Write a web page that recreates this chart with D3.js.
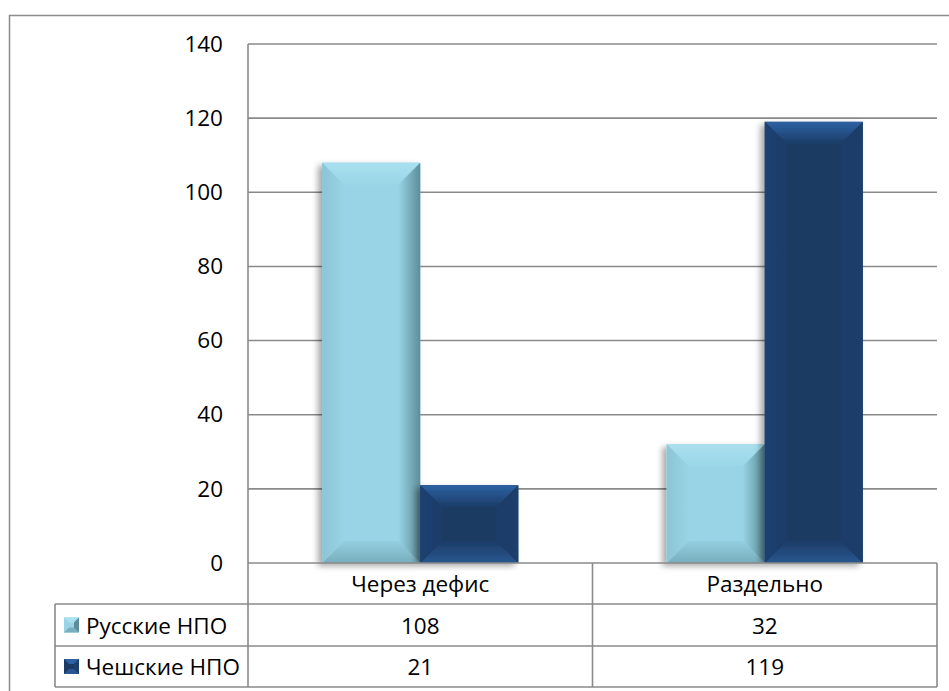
<!DOCTYPE html>
<html><head><meta charset="utf-8">
<script src="https://cdn.jsdelivr.net/npm/d3@7"></script>
<style>
html,body{margin:0;padding:0;background:#fff;}
svg{display:block;font-family:"Open Sans",sans-serif;}
</style></head>
<body><svg id="c" width="949" height="691"></svg>
<script>
const categories = ["Через дефис", "Раздельно"];
const seriesNames = ["Русские НПО", "Чешские НПО"];
const russianValues = [108, 32];
const czechValues = [21, 119];
const yTicks = [0, 20, 40, 60, 80, 100, 120, 140];

const seriesValues = [russianValues, czechValues];
const svg = d3.select("#c");
const plot = {l: 248, r: 937, t: 44, b: 563};
const tbl = {l: 55, rows: [563, 604, 646, 687]};
const grid = "#8a8a8a";
const fs = 22.5;

// outer frame
svg.append("rect").attr("x", 9.5).attr("y", 15.5).attr("width", 980).attr("height", 720)
  .attr("fill", "none").attr("stroke", "#8c8c8c").attr("stroke-width", 1.5);

const y = d3.scaleLinear().domain([0, 140]).range([plot.b, plot.t]);
const x0 = d3.scaleBand().domain(categories).range([plot.l, plot.r]).padding(0);
const x1 = d3.scaleBand().domain(seriesNames).range([0, x0.bandwidth()]).paddingInner(0).paddingOuter(0.757);

// gridlines
svg.append("g").selectAll("line").data(yTicks.filter(d => d > 0)).join("line")
  .attr("x1", plot.l).attr("x2", plot.r).attr("y1", d => y(d)).attr("y2", d => y(d))
  .attr("stroke", grid).attr("stroke-width", 1.6);

// y axis labels
const yAxis = svg.append("g").attr("transform", `translate(${plot.l},0)`)
  .call(d3.axisLeft(y).tickValues(yTicks).tickSize(0).tickPadding(25));
yAxis.select(".domain").remove();
yAxis.selectAll("text").attr("font-family", "Open Sans, sans-serif").attr("font-size", fs).attr("fill", "#000");

// defs
const defs = svg.append("defs");
const f = defs.append("filter").attr("id", "sh").attr("x", "-20%").attr("y", "-10%").attr("width", "140%").attr("height", "120%");
f.append("feDropShadow").attr("dx", -4).attr("dy", 3).attr("stdDeviation", 3).attr("flood-color", "#000").attr("flood-opacity", 0.35);

function lg(id, x1_, y1_, x2_, y2_, stops) {
  const g = defs.append("linearGradient").attr("id", id)
    .attr("x1", x1_).attr("y1", y1_).attr("x2", x2_).attr("y2", y2_);
  stops.forEach(s => g.append("stop").attr("offset", s[0]).attr("stop-color", s[1]));
}
const pal = [
  {c: "#98d4e5", top: ["#a9e0ef", "#9ad6e7"], bot: ["#93cfe0", "#78aebd"], left: ["#8cc5d5", "#98d4e5"], right: ["#98d4e5", "#5e8d9a"]},
  {c: "#1b3a63", top: ["#2d62a3", "#1c3c68"], bot: ["#1c3c68", "#29578f"], left: ["#1d4172", "#1c3c68"], right: ["#1c3c68", "#1d3f6c"]}
];
pal.forEach((p, i) => {
  lg("t" + i, 0, 0, 0, 1, [[0, p.top[0]], [1, p.top[1]]]);
  lg("b" + i, 0, 0, 0, 1, [[0, p.bot[0]], [1, p.bot[1]]]);
  lg("l" + i, 0, 0, 1, 0, [[0, p.left[0]], [1, p.left[1]]]);
  lg("r" + i, 0, 0, 1, 0, [[0, p.right[0]], [1, p.right[1]]]);
});

// bars
const barData = [];
categories.forEach((c, ci) => seriesNames.forEach((s, si) => barData.push({c, s, si, v: seriesValues[si][ci]})));
const bars = svg.append("g").selectAll("g").data(barData).join("g").attr("filter", "url(#sh)");
bars.each(function(d) {
  const g = d3.select(this);
  const X = x0(d.c) + x1(d.s), w = x1.bandwidth();
  const T = y(d.v), B = y(0), h = B - T;
  const b = Math.min(22, h / 2, w / 2);
  const i = d.si;
  const poly = pts => pts.map(p => p.join(",")).join(" ");
  g.append("rect").attr("x", X).attr("y", T).attr("width", w).attr("height", h).attr("fill", pal[i].c);
  g.append("polygon").attr("points", poly([[X, T], [X + w, T], [X + w - b, T + b], [X + b, T + b]])).attr("fill", `url(#t${i})`);
  g.append("polygon").attr("points", poly([[X, B], [X + w, B], [X + w - b, B - b], [X + b, B - b]])).attr("fill", `url(#b${i})`);
  g.append("polygon").attr("points", poly([[X, T], [X + b, T + b], [X + b, B - b], [X, B]])).attr("fill", `url(#l${i})`);
  g.append("polygon").attr("points", poly([[X + w, T], [X + w - b, T + b], [X + w - b, B - b], [X + w, B]])).attr("fill", `url(#r${i})`);
});

// plot left axis line
svg.append("line").attr("x1", plot.l).attr("x2", plot.l).attr("y1", plot.t).attr("y2", tbl.rows[3])
  .attr("stroke", grid).attr("stroke-width", 1.6);

// data table
const tg = svg.append("g");
tg.append("line").attr("x1", plot.l).attr("x2", plot.r).attr("y1", tbl.rows[0]).attr("y2", tbl.rows[0]).attr("stroke", grid).attr("stroke-width", 1.6);
[1, 2, 3].forEach(k => tg.append("line").attr("x1", tbl.l).attr("x2", plot.r).attr("y1", tbl.rows[k]).attr("y2", tbl.rows[k]).attr("stroke", grid).attr("stroke-width", 1.6));
tg.append("line").attr("x1", tbl.l).attr("x2", tbl.l).attr("y1", tbl.rows[1]).attr("y2", tbl.rows[3]).attr("stroke", grid).attr("stroke-width", 1.6);
[x0(categories[1]), plot.r].forEach(xx => tg.append("line").attr("x1", xx).attr("x2", xx).attr("y1", tbl.rows[0]).attr("y2", tbl.rows[3]).attr("stroke", grid).attr("stroke-width", 1.6));

// category labels
tg.selectAll("text.cat").data(categories).join("text").attr("class", "cat")
  .attr("x", d => x0(d) + x0.bandwidth() / 2).attr("y", (tbl.rows[0] + tbl.rows[1]) / 2)
  .attr("text-anchor", "middle").attr("dominant-baseline", "central").attr("font-size", fs).text(d => d);
// values + legend keys
seriesNames.forEach((s, si) => {
  const cy = (tbl.rows[si + 1] + tbl.rows[si + 2]) / 2;
  tg.selectAll("text.v" + si).data(categories).join("text").attr("class", "v" + si)
    .attr("x", d => x0(d) + x0.bandwidth() / 2).attr("y", cy)
    .attr("text-anchor", "middle").attr("dominant-baseline", "central").attr("font-size", fs)
    .text((d, ci) => seriesValues[si][ci]);
  const kx = 64, ks = 15, ky = cy - ks / 2;
  const p = pal[si];
  const kg = tg.append("g");
  kg.append("rect").attr("x", kx).attr("y", ky).attr("width", ks).attr("height", ks).attr("fill", p.c);
  const poly = pts => pts.map(q => q.join(",")).join(" ");
  const bb = 5;
  kg.append("polygon").attr("points", poly([[kx, ky], [kx + ks, ky], [kx + ks - bb, ky + bb], [kx + bb, ky + bb]])).attr("fill", p.top[0]);
  kg.append("polygon").attr("points", poly([[kx, ky + ks], [kx + ks, ky + ks], [kx + ks - bb, ky + ks - bb], [kx + bb, ky + ks - bb]])).attr("fill", p.bot[1]);
  kg.append("polygon").attr("points", poly([[kx + ks, ky], [kx + ks - bb, ky + bb], [kx + ks - bb, ky + ks - bb], [kx + ks, ky + ks]])).attr("fill", p.right[1]);
  tg.append("text").attr("x", 86).attr("y", cy).attr("dominant-baseline", "central").attr("font-size", fs).text(s);
});
</script></body></html>
